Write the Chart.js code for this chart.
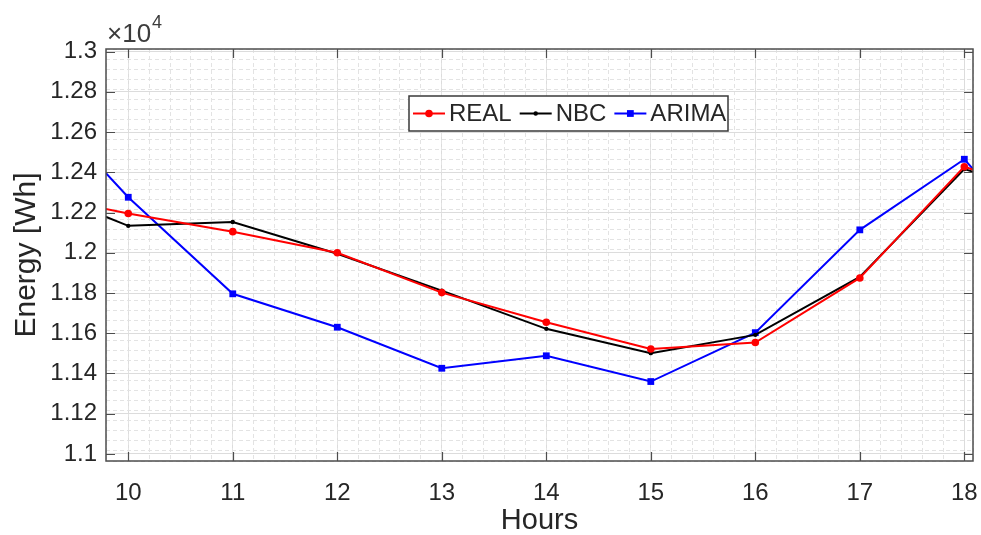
<!DOCTYPE html>
<html>
<head>
<meta charset="utf-8">
<script src="https://cdn.jsdelivr.net/npm/chart.js@4/dist/chart.umd.min.js"></script>
<style>
  html, body { margin: 0; padding: 0; background: #fff; }
  #wrap { width: 981px; height: 535px; position: relative; }
</style>
</head>
<body>
<div id="wrap"><canvas id="energyChart"></canvas></div>
<script>
// Hours (first/last entries are where the lines leave the axes)
const hours = [9.78, 10, 11, 12, 13, 14, 15, 16, 17, 18, 18.09];
const realValues = [12218, 12195, 12105, 12000, 11802, 11655, 11522, 11554, 11875, 12428, 12412];
const nbcValues = [12180, 12134, 12153, 11995, 11812, 11622, 11501, 11592, 11880, 12416, 12402];
const arimaValues = [12399, 12276, 11796, 11630, 11426, 11488, 11360, 11603, 12114, 12465, 12412];
const xTicks = [10, 11, 12, 13, 14, 15, 16, 17, 18];
const yTicks = [11000, 11200, 11400, 11600, 11800, 12000, 12200, 12400, 12600, 12800, 13000];

const FONT = "'Liberation Sans', Arial, sans-serif";
const AXIS_COLOR = '#4d4d4d';
const TEXT_COLOR = '#262626';

function toPoints(values) {
    return values.map((v, i) => ({ x: hours[i], y: v }));
}
// no markers on the clipped end points
function markerSizes(r) {
    return hours.map((h, i) => (i === 0 || i === hours.length - 1) ? 0 : r);
}

const datasets = [
    { label: 'REAL', data: toPoints(realValues), borderColor: '#ff0000', backgroundColor: '#ff0000',
      pointStyle: 'circle', pointRadius: markerSizes(3.8), legendRadius: 3.8 },
    { label: 'NBC', data: toPoints(nbcValues), borderColor: '#000000', backgroundColor: '#000000',
      pointStyle: 'circle', pointRadius: markerSizes(2.2), legendRadius: 2.2 },
    { label: 'ARIMA', data: toPoints(arimaValues), borderColor: '#0000ff', backgroundColor: '#0000ff',
      pointStyle: 'rect', pointRadius: markerSizes(4.8), legendRadius: 4.8 }
];
datasets.forEach(d => {
    d.borderWidth = 2;
    d.pointBorderWidth = 0;
    d.pointHoverRadius = 0;
    d.tension = 0;
});

// box, inward ticks, exponent label and legend like the MATLAB figure
const matlabAxes = {
    id: 'matlabAxes',
    afterDatasetsDraw(chart) {
        const { ctx, chartArea: a, scales } = chart;
        ctx.save();
        ctx.strokeStyle = AXIS_COLOR;
        ctx.lineWidth = 1.5;
        ctx.strokeRect(a.left, a.top, a.right - a.left, a.bottom - a.top);

        ctx.lineWidth = 1.2;
        ctx.beginPath();
        xTicks.forEach(t => {
            const x = Math.round(scales.x.getPixelForValue(t)) + 0.5;
            ctx.moveTo(x, a.bottom); ctx.lineTo(x, a.bottom - 9);
            ctx.moveTo(x, a.top); ctx.lineTo(x, a.top + 9);
        });
        yTicks.forEach(t => {
            const y = Math.round(scales.y.getPixelForValue(t)) + 0.5;
            ctx.moveTo(a.left, y); ctx.lineTo(a.left + 9, y);
            ctx.moveTo(a.right, y); ctx.lineTo(a.right - 9, y);
        });
        ctx.stroke();

        // x10^4 exponent
        ctx.fillStyle = '#3c3c3c';
        ctx.textBaseline = 'alphabetic';
        ctx.textAlign = 'left';
        ctx.font = '26px ' + FONT;
        ctx.fillText('\u00d710', a.left + 1, a.top - 7);
        const w = ctx.measureText('\u00d710').width;
        ctx.font = '18px ' + FONT;
        ctx.fillText('4', a.left + 2 + w, a.top - 21);

        // legend
        const lx = 409, ly = 96, lw = 319, lh = 35;
        ctx.fillStyle = '#ffffff';
        ctx.fillRect(lx, ly, lw, lh);
        ctx.strokeStyle = '#3a3a3a';
        ctx.lineWidth = 1.5;
        ctx.strokeRect(lx, ly, lw, lh);
        ctx.font = '24px ' + FONT;
        ctx.textBaseline = 'middle';
        let cx = lx + 4;
        const cy = ly + lh / 2;
        chart.data.datasets.forEach(d => {
            ctx.strokeStyle = d.borderColor;
            ctx.lineWidth = 2;
            ctx.beginPath();
            ctx.moveTo(cx, cy); ctx.lineTo(cx + 32, cy);
            ctx.stroke();
            ctx.fillStyle = d.backgroundColor;
            const r = d.legendRadius;
            if (d.pointStyle === 'rect') {
                const s = r * Math.SQRT1_2;
                ctx.fillRect(cx + 16 - s, cy - s, 2 * s, 2 * s);
            } else {
                ctx.beginPath();
                ctx.arc(cx + 16, cy, r, 0, Math.PI * 2);
                ctx.fill();
            }
            ctx.fillStyle = TEXT_COLOR;
            ctx.fillText(d.label, cx + 36, cy + 1);
            cx += 36 + ctx.measureText(d.label).width + 8;
        });
        ctx.restore();
    }
};

// fixed axis boxes so the plot area sits where the figure has it
function fixHeight(h) {
    return scale => { scale.height = h; scale.paddingLeft = 0; scale.paddingRight = 0; };
}
function fixWidth(w) {
    return scale => { scale.width = w; scale.paddingTop = 0; scale.paddingBottom = 0; };
}

const ctx = document.getElementById('energyChart').getContext('2d');
const energyChart = new Chart(ctx, {
    type: 'line',
    data: { datasets: datasets },
    options: {
        responsive: true,
        maintainAspectRatio: false,
        animation: false,
        events: [],
        layout: { padding: { top: 49, right: 8, left: 0, bottom: 0 } },
        scales: {
            x: {
                type: 'linear',
                min: 9.787,
                max: 18.083,
                afterBuildTicks: scale => { scale.ticks = xTicks.map(v => ({ value: v })); },
                afterFit: fixHeight(74),
                grid: { color: '#dcdcdc', lineWidth: 1, drawTicks: false },
                border: { display: false },
                ticks: {
                    padding: 18,
                    color: TEXT_COLOR,
                    font: { family: FONT, size: 24 },
                    maxRotation: 0,
                    callback: v => String(v)
                },
                title: {
                    display: true,
                    text: 'Hours',
                    color: TEXT_COLOR,
                    font: { family: FONT, size: 29, lineHeight: 1 },
                    padding: { top: 0, bottom: 0 }
                }
            },
            xMinor: {
                type: 'linear',
                position: 'bottom',
                min: 9.787,
                max: 18.083,
                afterFit: fixHeight(0),
                grid: { color: '#e3e3e3', lineWidth: 1, drawTicks: false },
                border: { display: false, dash: [4, 3] },
                ticks: { display: false, stepSize: 0.2 }
            },
            y: {
                type: 'linear',
                min: 10965,
                max: 13013,
                afterBuildTicks: scale => { scale.ticks = yTicks.map(v => ({ value: v })); },
                afterFit: fixWidth(106),
                grid: { color: '#dcdcdc', lineWidth: 1, drawTicks: false },
                border: { display: false },
                ticks: {
                    padding: 9,
                    color: TEXT_COLOR,
                    font: { family: FONT, size: 24 },
                    callback: v => String(parseFloat((v / 10000).toFixed(2)))
                },
                title: {
                    display: true,
                    text: 'Energy [Wh]',
                    color: TEXT_COLOR,
                    font: { family: FONT, size: 30, lineHeight: 1 },
                    padding: { top: 12, bottom: 0 }
                }
            },
            yMinor: {
                type: 'linear',
                position: 'left',
                min: 10965,
                max: 13013,
                afterFit: fixWidth(0),
                grid: { color: '#e3e3e3', lineWidth: 1, drawTicks: false },
                border: { display: false, dash: [4, 3] },
                ticks: { display: false, stepSize: 50 }
            }
        },
        plugins: {
            legend: { display: false },
            tooltip: { enabled: false }
        }
    },
    plugins: [matlabAxes]
});
</script>
</body>
</html>
